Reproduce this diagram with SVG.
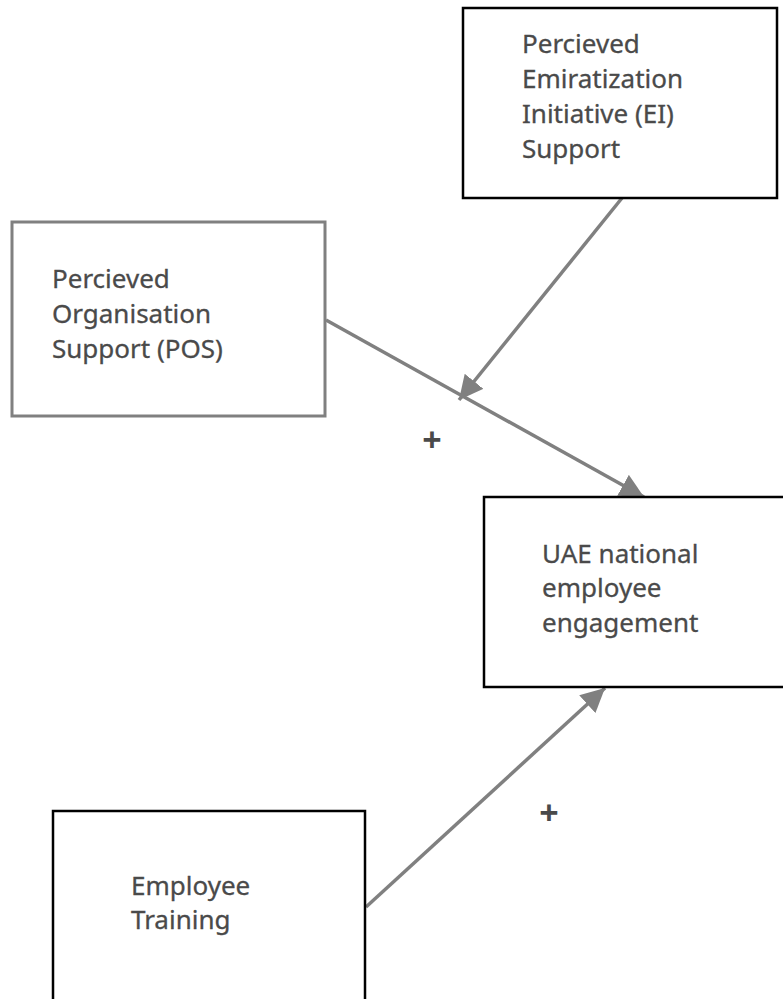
<svg xmlns="http://www.w3.org/2000/svg" width="783" height="999" viewBox="0 0 783 999">
<style>
.box{fill:#fff;stroke:#000;stroke-width:2.5}
.gbox{fill:#fff;stroke:#808080;stroke-width:3}
.lbl{font-family:"Noto Sans","Open Sans",sans-serif;font-size:26px;fill:#4a4a4a;stroke:#4a4a4a;stroke-width:0.3}
.conn{stroke:#808080;stroke-width:3.5;fill:none;marker-end:url(#ah)}
.plus{font-family:"Noto Sans","Open Sans",sans-serif;font-size:34px;font-weight:bold;fill:#4a4a4a;text-anchor:middle}
</style>
<defs>
<marker id="ah" markerUnits="userSpaceOnUse" markerWidth="24" markerHeight="24" refX="22" refY="11" orient="auto" viewBox="0 0 22 22">
<path d="M0,0 L22,11 L0,22 Z" fill="#808080"/>
</marker>
</defs>
<rect width="783" height="999" fill="#fff"/>
<g id="connectors">
<line class="conn" x1="622" y1="198" x2="459" y2="400"/>
<line class="conn" x1="326" y1="320" x2="644" y2="497"/>
<line class="conn" x1="366" y1="907" x2="605" y2="688"/>
<text class="plus" x="432" y="452">+</text>
<text class="plus" x="549" y="825">+</text>
</g>
<g id="ei">
<rect class="box" x="463" y="8" width="314" height="190"/>
<text class="lbl" x="522" y="53">Percieved</text>
<text class="lbl" x="522" y="88">Emiratization</text>
<text class="lbl" x="522" y="123">Initiative (EI)</text>
<text class="lbl" x="522" y="158">Support</text>
</g>
<g id="pos">
<rect class="gbox" x="12" y="222" width="313" height="194"/>
<text class="lbl" x="52" y="288">Percieved</text>
<text class="lbl" x="52" y="323">Organisation</text>
<text class="lbl" x="52" y="358">Support (POS)</text>
</g>
<g id="engagement">
<rect class="box" x="484" y="497" width="310" height="190"/>
<text class="lbl" x="542" y="563">UAE national</text>
<text class="lbl" x="542" y="597">employee</text>
<text class="lbl" x="542" y="632">engagement</text>
</g>
<g id="training">
<rect class="box" x="53" y="811" width="312" height="210"/>
<text class="lbl" x="131" y="895">Employee</text>
<text class="lbl" x="131" y="929">Training</text>
</g>
</svg>
